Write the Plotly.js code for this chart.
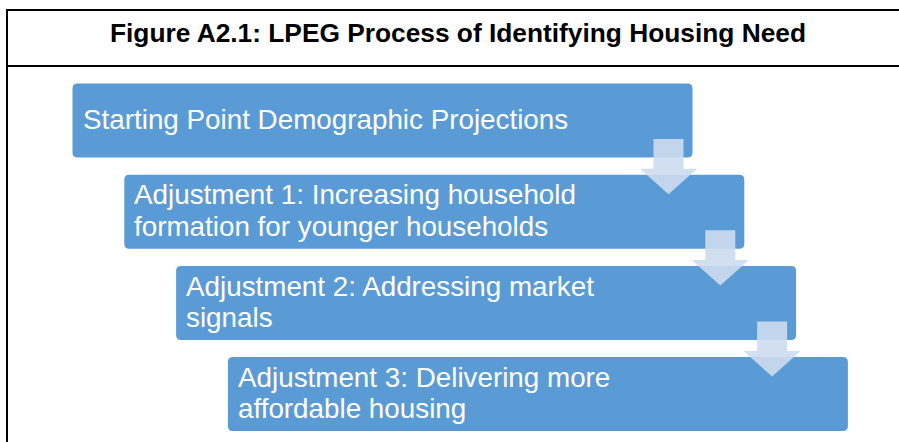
<!DOCTYPE html>
<html>
<head>
<meta charset="utf-8">
<script src="https://cdn.plot.ly/plotly-3.0.1.min.js"></script>
<style>
  html, body { margin: 0; padding: 0; background: #ffffff; }
  #chart { width: 899px; height: 442px; }
</style>
</head>
<body>
<div id="chart"></div>
<script>
// ---- Content ----
const figureTitle = "Figure A2.1: LPEG Process of Identifying Housing Need";
const stepNames = ["Starting Point", "Adjustment 1", "Adjustment 2", "Adjustment 3"];
const stepLines = [
  ["Starting Point Demographic Projections"],
  ["Adjustment 1: Increasing household", "formation for younger households"],
  ["Adjustment 2: Addressing market", "signals"],
  ["Adjustment 3: Delivering more", "affordable housing"]
];

// ---- Layout geometry (pixel coordinates) ----
const W = 899, H = 442;
const box0 = { x: 72.5, y: 83.5 };
const step = { dx: 51.8, dy: 91.2 };
const boxW = 620, boxH = 74, radius = 5;
const lineGap = 31.5;
const textPad = 8;
const textShift = -1;

const boxColor = "#5b9bd5";
const arrowColor = "rgba(205,220,240,0.9)";
const fontFamily = "Liberation Sans, Arial, Helvetica, sans-serif";

function roundRect(x0, y0, x1, y1, r) {
  return `M${x0 + r},${y0} L${x1 - r},${y0} Q${x1},${y0} ${x1},${y0 + r} ` +
         `L${x1},${y1 - r} Q${x1},${y1} ${x1 - r},${y1} L${x0 + r},${y1} ` +
         `Q${x0},${y1} ${x0},${y1 - r} L${x0},${y0 + r} Q${x0},${y0} ${x0 + r},${y0} Z`;
}
function downArrow(cx, top, headY, tip) {
  const sw = 15, hw = 28.5;
  return `M${cx - sw},${top} L${cx + sw},${top} L${cx + sw},${headY} L${cx + hw},${headY} ` +
         `L${cx},${tip} L${cx - hw},${headY} L${cx - sw},${headY} Z`;
}

const shapes = [];
const annotations = [];

// frame
shapes.push({ type: "line", x0: 7, x1: W, y0: 10, y1: 10, line: { color: "#000", width: 2 } });
shapes.push({ type: "line", x0: 7, x1: W, y0: 66, y1: 66, line: { color: "#000", width: 2 } });
shapes.push({ type: "line", x0: 7, x1: 7, y0: 9, y1: H, line: { color: "#000", width: 2 } });

annotations.push({
  text: "<b>" + figureTitle + "</b>", x: 458, y: 32.5, xref: "x", yref: "y",
  xanchor: "center", yanchor: "middle", showarrow: false,
  font: { family: fontFamily, size: 26.3, color: "#000" }
});

const boxes = stepNames.map((name, i) => {
  const x0 = box0.x + step.dx * i, y0 = box0.y + step.dy * i;
  return { x0, y0, x1: x0 + boxW, y1: y0 + boxH };
});

boxes.forEach((b, i) => {
  shapes.push({ type: "path", path: roundRect(b.x0, b.y0, b.x1, b.y1, radius),
    fillcolor: boxColor, line: { width: 0 }, xref: "x", yref: "y" });
  const lines = stepLines[i];
  const cy = (b.y0 + b.y1) / 2 + textShift;
  lines.forEach((t, k) => {
    const y = cy + (k - (lines.length - 1) / 2) * lineGap;
    annotations.push({
      text: t, x: b.x0 + textPad, y: y, xref: "x", yref: "y",
      xanchor: "left", yanchor: "middle", showarrow: false,
      font: { family: fontFamily, size: 27.8, color: "#ffffff" }
    });
  });
});

for (let i = 0; i < boxes.length - 1; i++) {
  const a = boxes[i], b = boxes[i + 1];
  const cx = a.x1 - 24;
  shapes.push({ type: "path", path: downArrow(cx, a.y1 - 18.5, b.y0 - 6, b.y0 + 19.5),
    fillcolor: arrowColor, line: { width: 0 }, xref: "x", yref: "y" });
}

const layout = {
  width: W, height: H,
  margin: { l: 0, r: 0, t: 0, b: 0, pad: 0 },
  paper_bgcolor: "#ffffff", plot_bgcolor: "#ffffff",
  xaxis: { range: [0, W], visible: false, fixedrange: true },
  yaxis: { range: [H, 0], visible: false, fixedrange: true },
  showlegend: false,
  shapes, annotations
};

Plotly.newPlot("chart", [], layout, { displayModeBar: false, staticPlot: true });
</script>
</body>
</html>
